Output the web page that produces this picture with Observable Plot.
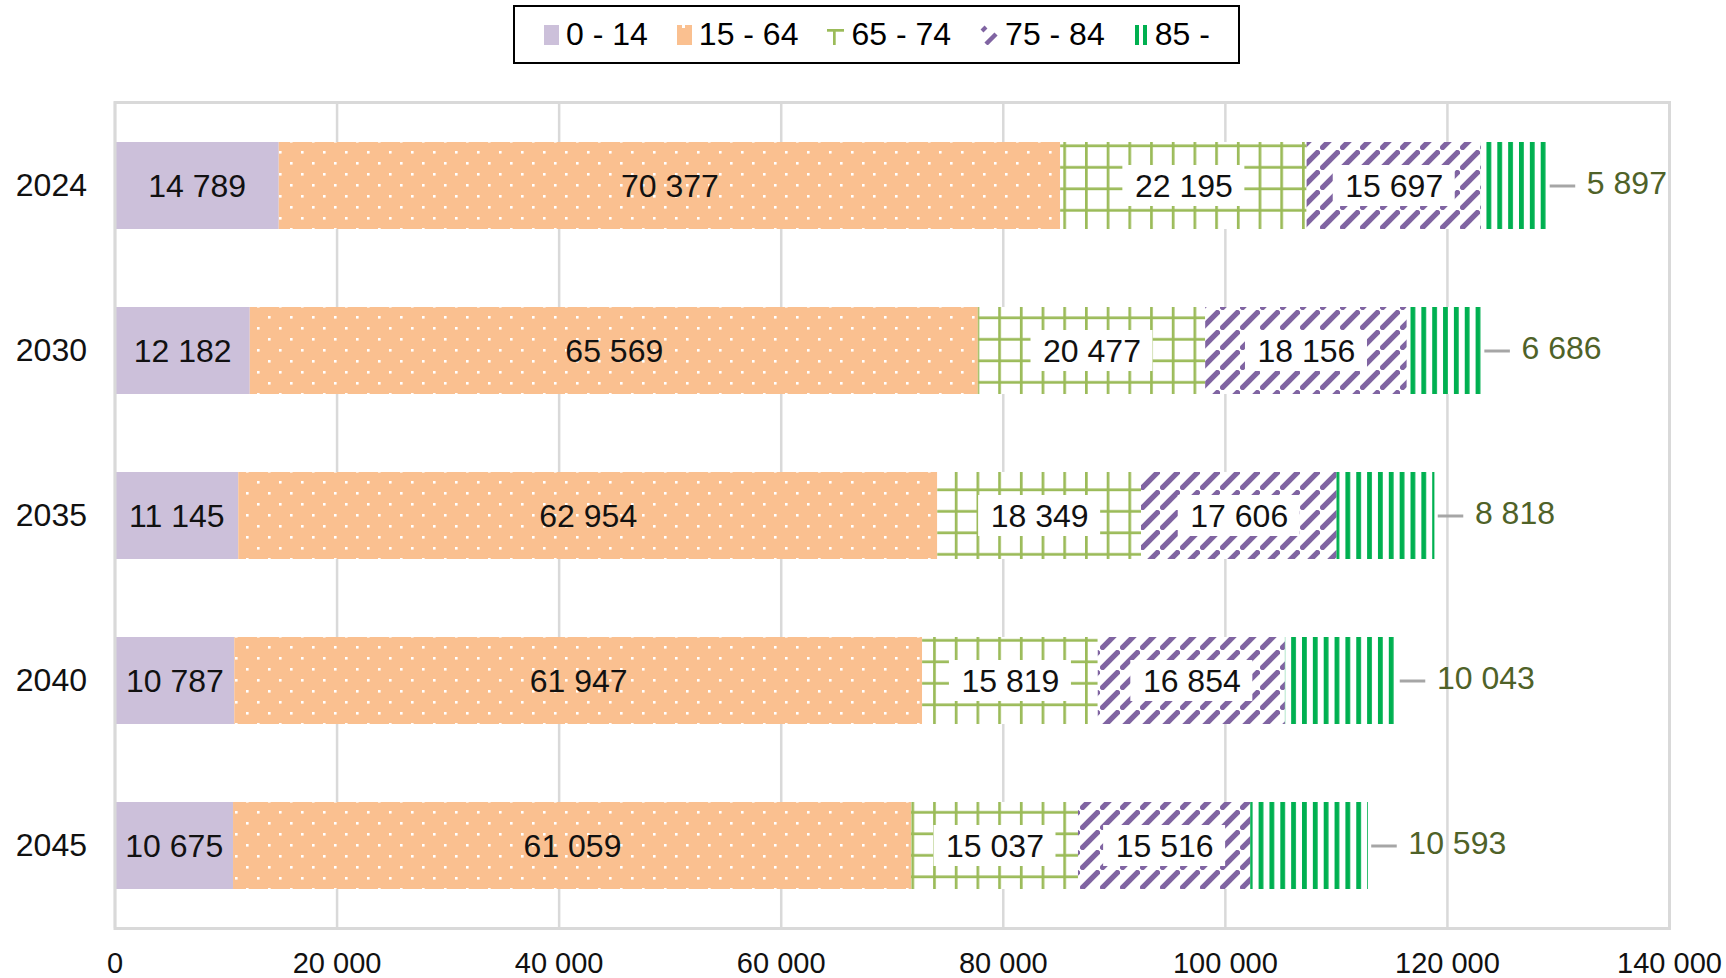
<!DOCTYPE html>
<html>
<head>
<meta charset="utf-8">
<script src="https://cdn.jsdelivr.net/npm/d3@7"></script>
<script src="https://cdn.jsdelivr.net/npm/@observablehq/plot@0.6"></script>
<style>
  html, body { margin: 0; padding: 0; background: #fff; overflow: hidden; }
  body { width: 1726px; height: 978px; font-family: "Liberation Sans", Arial, sans-serif; }
  #legendWrap { position: relative; width: 1726px; height: 70px; }
  #legend {
    position: absolute; left: 513px; top: 5px; width: 727px; height: 59px;
    box-sizing: border-box; border: 2.5px solid #000;
    display: flex; align-items: center; padding-left: 29px; gap: 29px;
    font-size: 32px; color: #000;
  }
  .item { display: flex; align-items: center; gap: 7px; }
  .item svg { display: block; }
  #chart svg [aria-label^="y-axis"] text { font-size: 32px; }
</style>
</head>
<body>
<svg width="0" height="0" style="position:absolute">
  <defs>
    <pattern id="pDots" patternUnits="userSpaceOnUse" width="22" height="22">
      <rect width="22" height="22" fill="#fac090"/>
      <rect x="4" y="4" width="2.6" height="2.6" fill="#fff"/>
      <rect x="15" y="15" width="2.6" height="2.6" fill="#fff"/>
    </pattern>
    <pattern id="pGrid" patternUnits="userSpaceOnUse" width="21.7" height="21.5">
      <rect width="21.7" height="21.5" fill="#fff"/>
      <rect x="0" y="0" width="2.7" height="21.5" fill="#9bbb59"/>
      <rect x="0" y="10" width="21.7" height="2.7" fill="#9bbb59"/>
    </pattern>
    <pattern id="pDiag" patternUnits="userSpaceOnUse" width="20" height="20">
      <rect width="20" height="20" fill="#fff"/>
      <path d="M0.8,19.2 L19.2,0.8" stroke="#8064a2" stroke-width="5.4" stroke-linecap="butt"/>
    </pattern>
    <pattern id="pVert" patternUnits="userSpaceOnUse" width="10.85" height="20">
      <rect width="10.85" height="20" fill="#fff"/>
      <rect x="0" y="0" width="4.8" height="20" fill="#00b050"/>
    </pattern>
  </defs>
</svg>
<div id="legendWrap"><div id="legend"></div></div>
<div id="chart"></div>
<script>
const years = ["2024", "2030", "2035", "2040", "2045"];
const groups = ["0 - 14", "15 - 64", "65 - 74", "75 - 84", "85 -"];
const age0_14  = [14789, 12182, 11145, 10787, 10675];
const age15_64 = [70377, 65569, 62954, 61947, 61059];
const age65_74 = [22195, 20477, 18349, 15819, 15037];
const age75_84 = [15697, 18156, 17606, 16854, 15516];
const age85    = [5897, 6686, 8818, 10043, 10593];
const xTicks = [0, 20000, 40000, 60000, 80000, 100000, 120000, 140000];

const series = [age0_14, age15_64, age65_74, age75_84, age85];
const fills = ["#ccc0da", "url(#pDots)", "url(#pGrid)", "url(#pDiag)", "url(#pVert)"];

const fmt = v => d3.format(",")(v).replace(/,/g, " ");

// tidy table built from the arrays
const rows = [];
const totals = [];
years.forEach((year, i) => {
  let acc = 0;
  groups.forEach((g, j) => {
    const v = series[j][i];
    rows.push({year, group: g, gi: j, value: v, x1: acc, x2: acc + v, mid: acc + v / 2, label: fmt(v)});
    acc += v;
  });
  totals.push({year, total: acc, label: fmt(age85[i])});
});

const marks = [
  Plot.gridX(xTicks, {stroke: "#d9d9d9", strokeWidth: 2.5, strokeOpacity: 1}),
  ...groups.map((g, j) =>
    Plot.barX(rows.filter(r => r.gi === j), {x1: "x1", x2: "x2", y: "year", fill: fills[j]})
  ),
  Plot.barX(rows.filter(r => r.gi === 2 || r.gi === 3), {
    x1: "mid", x2: "mid", y: "year", fill: "#fff",
    insetLeft: -61, insetRight: -61, insetTop: 23, insetBottom: 23
  }),
  Plot.text(rows.filter(r => r.gi < 4), {
    x: "mid", y: "year", text: "label", fontSize: 32, fill: "#111", dy: 1
  }),
  Plot.ruleY(totals, {
    y: "year", x1: d => d.total + 300, x2: d => d.total + 2600,
    stroke: "#a6a6a6", strokeWidth: 3
  }),
  Plot.text(totals, {
    x: "total", y: "year", text: "label", dx: 40, dy: -2, textAnchor: "start",
    fontSize: 32, fill: "#4f6228"
  }),
  Plot.frame({stroke: "#d9d9d9", strokeWidth: 3})
];

const chart = Plot.plot({
  width: 1726,
  height: 908,
  marginTop: 32,
  marginBottom: 50,
  marginLeft: 114.5,
  marginRight: 57,
  style: {fontFamily: '"Liberation Sans", Arial, sans-serif', fontSize: "29px", color: "#111", background: "#fff", overflow: "visible"},
  x: {domain: [0, 140000], ticks: xTicks, tickFormat: fmt, tickSize: 0, tickPadding: 24, label: null},
  y: {domain: years, paddingInner: 0.473, paddingOuter: 0.2365, tickSize: 0, tickPadding: 28, label: null},
  marks
});
document.getElementById("chart").appendChild(chart);

// legend (HTML)
const swatches = [
  `<svg width="15" height="20"><rect width="15" height="20" fill="#ccc0da"/></svg>`,
  `<svg width="15" height="20"><rect width="15" height="20" fill="#fac090"/><rect x="5" y="0" width="3" height="3" fill="#fff"/></svg>`,
  `<svg width="17" height="20"><rect x="0" y="4" width="17" height="2.7" fill="#9bbb59"/><rect x="6" y="4" width="2.7" height="16" fill="#9bbb59"/></svg>`,
  `<svg width="18" height="20"><path d="M2,6 L6,2" stroke="#8064a2" stroke-width="4"/><path d="M6,19 L16,9" stroke="#8064a2" stroke-width="4.5"/></svg>`,
  `<svg width="14" height="20"><rect x="1" y="0" width="4" height="20" fill="#00b050"/><rect x="9" y="0" width="4" height="20" fill="#00b050"/></svg>`
];
const legend = document.getElementById("legend");
groups.forEach((g, j) => {
  const it = document.createElement("div");
  it.className = "item";
  it.innerHTML = swatches[j] + `<span>${g}</span>`;
  legend.appendChild(it);
});
</script>
</body>
</html>
